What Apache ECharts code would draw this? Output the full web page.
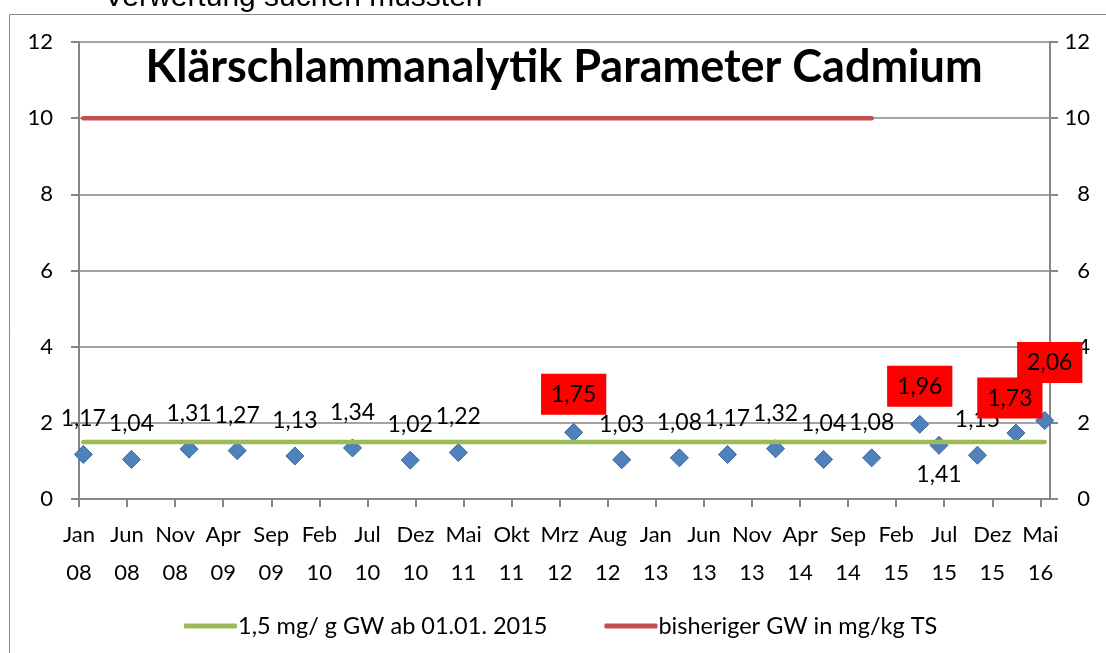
<!DOCTYPE html>
<html lang="de">
<head>
	<meta charset="UTF-8">
	<title>Klärschlammanalytik Cadmium</title>
	<script src="https://cdn.jsdelivr.net/npm/echarts@6/dist/echarts.min.js"></script>
	<style>
		html, body { margin: 0; padding: 0; background: #fff; }
	</style>
</head>
<body>
	<div id="main" style="width: 1106px;height:653px;"></div>
</body>
</html>

<script type="text/javascript">

// Probenahmedaten (etwa Monatsmitte) und Cadmium-Werte
var dates = ['2008-01-15','2008-06-15','2008-12-15','2009-05-15','2009-11-15','2010-05-15','2010-11-15','2011-04-15',
             '2012-04-15','2012-09-15','2013-03-15','2013-08-15','2014-01-15','2014-06-15','2014-11-15',
             '2015-04-15','2015-06-15','2015-10-15','2016-02-15','2016-05-15'];
var cadmium = [1.17,1.04,1.31,1.27,1.13,1.34,1.02,1.22,1.75,1.03,1.08,1.17,1.32,1.04,1.08,1.96,1.41,1.15,1.73,2.06];
// Grenzwerte
var gwNeu = [1.5,1.5,1.5,1.5,1.5,1.5,1.5,1.5,1.5,1.5,1.5,1.5,1.5,1.5,1.5,1.5,1.5,1.5,1.5,1.5];
var gwAlt = [10,10,10,10,10,10,10,10,10,10,10,10,10,10,10];
var monate = ['Jan','Feb','Mrz','Apr','Mai','Jun','Jul','Aug','Sep','Okt','Nov','Dez'];
var yTicks = [0,2,4,6,8,10,12];

var rot = [8, 15, 18, 19];      // Werte über 1,5 mit rotem Feld
var unten = [16];               // Beschriftung unterhalb

// Datum -> Monate seit Jan 08
function mon(d) {
	var p = d.split('-');
	return (+p[0] - 2008) * 12 + (+p[1] - 1) + (+p[2] - 1) / 31;
}
function fmt(v) { return v.toFixed(2).replace('.', ','); }

var FONT = 'Lato';

var punkte = cadmium.map(function (v, i) {
	var item = { value: [mon(dates[i]), v] };
	if (rot.indexOf(i) >= 0) {
		item.label = { backgroundColor: '#ff0000', padding: [9, 10, 8, 10], lineHeight: 24, distance: 8 };
		if (i === 18) { item.label.distance = 5; item.label.offset = [-6, 0]; }
		if (i === 19) { item.label.distance = 28; item.label.offset = [5, 0]; }
	}
	if (unten.indexOf(i) >= 0) item.label = { position: 'bottom', distance: 8 };
	return item;
});

var mychart = echarts.init(document.getElementById('main'));

var axisGrau = '#868686';

option = {
	animation: false,
	textStyle: { fontFamily: FONT },
	title: {
		text: 'Klärschlammanalytik Parameter Cadmium',
		left: 559,
		textAlign: 'center',
		top: 40,
		textStyle: { fontFamily: FONT, fontWeight: 'bold', fontSize: 45, color: '#000' }
	},
	legend: {
		data: ['1,5 mg/ g GW ab 01.01. 2015', 'bisheriger GW in mg/kg TS'],
		left: 179,
		top: 609,
		icon: 'roundRect',
		itemWidth: 53,
		itemHeight: 5,
		itemGap: 57,
		textStyle: { fontFamily: FONT, fontSize: 23.5, color: '#000', padding: [0, 0, 0, -4] }
	},
	grid: { left: 79, right: 56, top: 42, bottom: 154 },
	xAxis: {
		type: 'value',
		min: 0,
		max: 101,
		interval: 5,
		splitLine: { show: false },
		axisLine: { lineStyle: { color: axisGrau, width: 2 } },
		axisTick: { length: 8, lineStyle: { color: axisGrau, width: 2 } },
		axisLabel: {
			margin: 17,
			fontSize: 22,
			lineHeight: 38,
			color: '#000',
			showMaxLabel: false,
			formatter: function (v) {
				if (v % 5 !== 0) return '';
				var j = 8 + Math.floor(v / 12);
				return monate[v % 12] + '\n' + (j < 10 ? '0' + j : j);
			}
		}
	},
	yAxis: [
		{
			type: 'value', min: 0, max: 12, interval: 2,
			axisLine: { show: true, lineStyle: { color: axisGrau, width: 2 } },
			axisTick: { show: true, length: 8, lineStyle: { color: axisGrau, width: 2 } },
			splitLine: { lineStyle: { color: axisGrau, width: 1.5 } },
			axisLabel: { margin: 26, fontSize: 22, color: '#000',
				formatter: function (v) { return yTicks.indexOf(v) >= 0 ? v : ''; } }
		},
		{
			type: 'value', min: 0, max: 12, interval: 2, position: 'right',
			axisLine: { show: true, lineStyle: { color: axisGrau, width: 2 } },
			axisTick: { show: true, length: 8, lineStyle: { color: axisGrau, width: 2 } },
			splitLine: { show: false },
			axisLabel: { margin: 40, align: 'right', fontSize: 22, color: '#000',
				formatter: function (v) { return yTicks.indexOf(v) >= 0 ? v : ''; } }
		}
	],
	graphic: [
		{
			type: 'rect',
			shape: { x: 9.5, y: 14.5, width: 1200, height: 1000 },
			style: { fill: 'none', stroke: '#888', lineWidth: 1 },
			silent: true, z: -1
		},
		{
			type: 'text',
			x: 104, y: 13,
			style: { text: 'Verwertung suchen mussten', font: '30px "Liberation Sans"', fill: '#000',
				verticalAlign: 'bottom' },
			silent: true
		}
	],
	series: [
		{
			name: '1,5 mg/ g GW ab 01.01. 2015',
			type: 'line',
			symbol: 'none',
			color: '#9bbb59',
			lineStyle: { width: 4.5, cap: 'round' },
			data: gwNeu.map(function (v, i) { return [mon(dates[i]), v]; })
		},
		{
			name: 'bisheriger GW in mg/kg TS',
			type: 'line',
			symbol: 'none',
			color: '#c0504d',
			lineStyle: { width: 4.5, cap: 'round' },
			data: gwAlt.map(function (v, i) { return [mon(dates[i]), v]; })
		},
		{
			name: 'Cadmium',
			type: 'scatter',
			symbol: 'diamond',
			symbolSize: 18,
			itemStyle: { color: '#4f81bd', borderColor: '#3a6594', borderWidth: 1, opacity: 1 },
			label: {
				show: true,
				position: 'top',
				distance: 14,
				fontSize: 23,
				lineHeight: 24,
				color: '#000',
				opacity: 1,
				formatter: function (p) { return fmt(p.value[1]); }
			},
			data: punkte
		}
	]
};
mychart.setOption(option);
</script>
